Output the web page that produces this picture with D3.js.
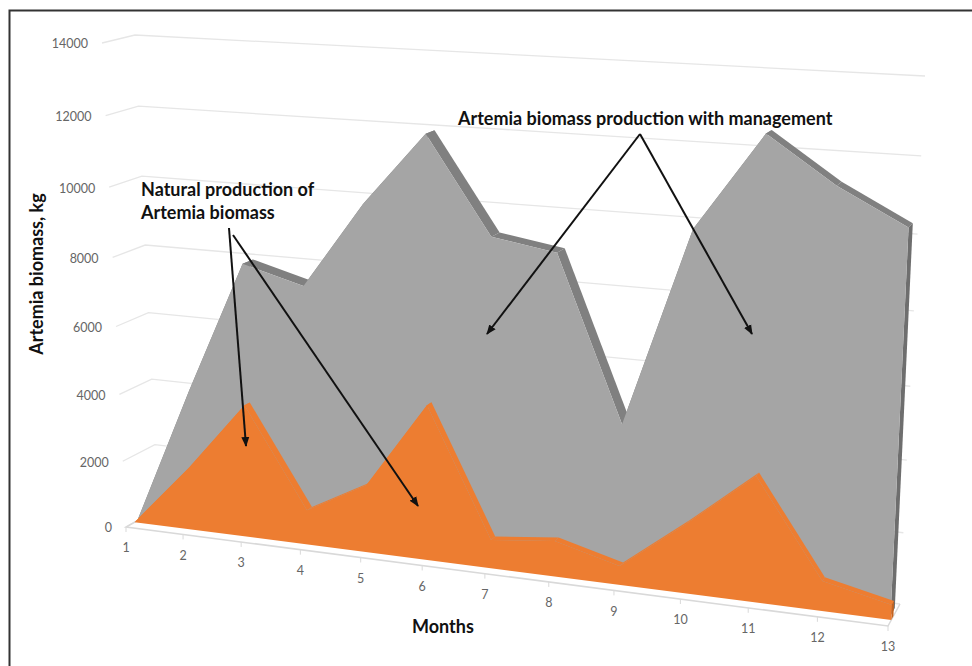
<!DOCTYPE html>
<html>
<head>
<meta charset="utf-8">
<script src="https://cdn.jsdelivr.net/npm/d3@7"></script>
<style>
body { margin: 0; background: #fff; }
text { font-family: Lato, "Open Sans", sans-serif; }
</style>
</head>
<body>
<script>
//width and height
var w = 972;
var h = 666;

//chart data
var months = [1, 2, 3, 4, 5, 6, 7, 8, 9, 10, 11, 12, 13];
var managed = [0, 4070, 7940, 7460, 9900, 11920, 9270, 8980, 4450, 9890, 12480, 11270, 10340];
var natural = [0, 1870, 3930, 1030, 1990, 4500, 830, 1030, 540, 1980, 3520, 840, 420];
var yTicks = [0, 2000, 4000, 6000, 8000, 10000, 12000, 14000];

//corners of the 3d box on screen: bottom left, bottom right, top right, top left
var frontWall = [[126, 527], [888, 626], [913, 85], [102, 43]];
var backWall = [[158, 509], [900, 604], [925, 76], [135, 35]];

//depth of each series inside the box (0 front, 1 back)
var naturalDepth = [0.27, 0.45];
var managedDepth = [0.45, 0.8];

//month and value as fractions of the box
var xScale = d3.scaleLinear().domain([1, 13]).range([0, 1]);
var yScale = d3.scaleLinear().domain([0, 14000]).range([0, 1]);

//perspective plane at a given depth, maps (month, value) to screen
function plane(depth) {
    var q = d3.range(4).map(function(i) {
        return [
            d3.interpolateNumber(frontWall[i][0], backWall[i][0])(depth),
            d3.interpolateNumber(frontWall[i][1], backWall[i][1])(depth)
        ];
    });
    var dx1 = q[1][0] - q[2][0], dx2 = q[3][0] - q[2][0];
    var dy1 = q[1][1] - q[2][1], dy2 = q[3][1] - q[2][1];
    var sx = q[0][0] - q[1][0] + q[2][0] - q[3][0];
    var sy = q[0][1] - q[1][1] + q[2][1] - q[3][1];
    var den = dx1 * dy2 - dx2 * dy1;
    var g = (sx * dy2 - dx2 * sy) / den;
    var k = (dx1 * sy - sx * dy1) / den;
    return function(month, value) {
        var t = xScale(month), v = yScale(value);
        var z = g * t + k * v + 1;
        return [
            ((q[1][0] - q[0][0] + g * q[1][0]) * t + (q[3][0] - q[0][0] + k * q[3][0]) * v + q[0][0]) / z,
            ((q[1][1] - q[0][1] + g * q[1][1]) * t + (q[3][1] - q[0][1] + k * q[3][1]) * v + q[0][1]) / z
        ];
    };
}

var front = plane(0), back = plane(1);
var line = d3.line();

//add svg canvas
var svg = d3.select("body")
            .append("svg")
            .attr("width", w)
            .attr("height", h)
            .style("display", "block");

//gridlines on the side wall and the back wall
svg.selectAll("path.grid")
    .data(yTicks)
    .enter()
    .append("path")
    .attr("class", "grid")
    .attr("d", function(d) {
        return line([front(1, d), back(1, d), back(13, d)]);
    })
    .attr("fill", "none")
    .attr("stroke", "#e6e6e6")
    .attr("stroke-width", 1.3);

//value labels next to the side wall
svg.selectAll("text.ytick")
    .data(yTicks)
    .enter()
    .append("text")
    .attr("class", "ytick")
    .attr("x", function(d) { return front(1, d)[0] - 14; })
    .attr("y", function(d) { return front(1, d)[1] + 1; })
    .attr("dy", "0.35em")
    .attr("text-anchor", "end")
    .attr("font-size", 12.5)
    .attr("fill", "#666")
    .text(function(d) { return d; });

//floor edges and month ticks
svg.append("path")
    .attr("d", line([back(1, 0), front(1, 0), front(13, 0), back(13, 0)]))
    .attr("fill", "none")
    .attr("stroke", "#d9d9d9")
    .attr("stroke-width", 1.5);

svg.selectAll("path.xtick")
    .data(months)
    .enter()
    .append("path")
    .attr("class", "xtick")
    .attr("d", function(d) {
        var p = front(d, 0);
        return line([p, [p[0], p[1] + 5]]);
    })
    .attr("stroke", "#d9d9d9");

svg.selectAll("text.xlabel")
    .data(months)
    .enter()
    .append("text")
    .attr("class", "xlabel")
    .attr("x", function(d) { return front(d, 0)[0]; })
    .attr("y", function(d) { return front(d, 0)[1] + 21; })
    .attr("dy", "0.35em")
    .attr("text-anchor", "middle")
    .attr("font-size", 12.5)
    .attr("fill", "#666")
    .text(function(d) { return d; });

//one 3d area: top faces, right end face, then the front face on top
//shift nudges the series sideways along the month axis, in months
function drawArea(values, depth, shift, colors) {
    var nearPlane = plane(depth[0]), farPlane = plane(depth[1]);
    function near(m, v) { return nearPlane(m + shift, v); }
    function far(m, v) { return farPlane(m + shift, v); }

    svg.append("g")
        .selectAll("path")
        .data(d3.pairs(months))
        .enter()
        .append("path")
        .attr("d", function(d) {
            var v0 = values[d[0] - 1], v1 = values[d[1] - 1];
            return line([near(d[0], v0), near(d[1], v1), far(d[1], v1), far(d[0], v0)]) + "Z";
        })
        .attr("fill", colors.top);

    var lastValue = values[values.length - 1];
    svg.append("path")
        .attr("d", line([near(13, 0), far(13, 0), far(13, lastValue), near(13, lastValue)]) + "Z")
        .attr("fill", colors.side);

    var outline = months.map(function(m, i) { return near(m, values[i]); });
    outline.push(near(13, 0));
    outline.push(near(1, 0));
    svg.append("path")
        .attr("d", line(outline) + "Z")
        .attr("fill", colors.face);
}

drawArea(managed, managedDepth, -0.04, { top: "#808080", side: "#6e6e6e", face: "#a5a5a5" });
drawArea(natural, naturalDepth, 0, { top: "#ed7d31", side: "#c4631f", face: "#ed7d31" });

//arrow annotations
var arrows = [
    [[229, 228], [246, 446]],
    [[233, 235], [418, 506]],
    [[640, 134], [487, 334]],
    [[640, 134], [752, 334]]
];

svg.append("defs")
    .append("marker")
    .attr("id", "head")
    .attr("viewBox", "0 0 10 10")
    .attr("refX", 9)
    .attr("refY", 5)
    .attr("markerUnits", "userSpaceOnUse")
    .attr("markerWidth", 10)
    .attr("markerHeight", 10)
    .attr("orient", "auto")
    .append("path")
    .attr("d", "M0,1L10,5L0,9Z")
    .attr("fill", "#111");

svg.selectAll("path.arrow")
    .data(arrows)
    .enter()
    .append("path")
    .attr("class", "arrow")
    .attr("d", function(d) { return line(d); })
    .attr("stroke", "#111")
    .attr("stroke-width", 2)
    .attr("marker-end", "url(#head)");

//bold labels
var labels = [
    { x: 141, y: 196, t: "Natural production of" },
    { x: 141, y: 219, t: "Artemia biomass" },
    { x: 458, y: 125, t: "Artemia biomass production with management" },
    { x: 412, y: 633, t: "Months" }
];

svg.selectAll("text.note")
    .data(labels)
    .enter()
    .append("text")
    .attr("class", "note")
    .attr("x", function(d) { return d.x; })
    .attr("y", function(d) { return d.y; })
    .attr("font-size", 18)
    .attr("font-weight", 700)
    .attr("fill", "#111")
    .text(function(d) { return d.t; });

svg.append("text")
    .attr("transform", "translate(43,274) rotate(-90)")
    .attr("text-anchor", "middle")
    .attr("font-size", 18)
    .attr("font-weight", 700)
    .attr("fill", "#111")
    .text("Artemia biomass, kg");

//frame, runs off the right and bottom of the page
svg.append("path")
    .attr("d", line([[9.5, h + 2], [9.5, 10.5], [w + 2, 10.5]]))
    .attr("fill", "none")
    .attr("stroke", "#333")
    .attr("stroke-width", 2);
</script>
</body>
</html>
